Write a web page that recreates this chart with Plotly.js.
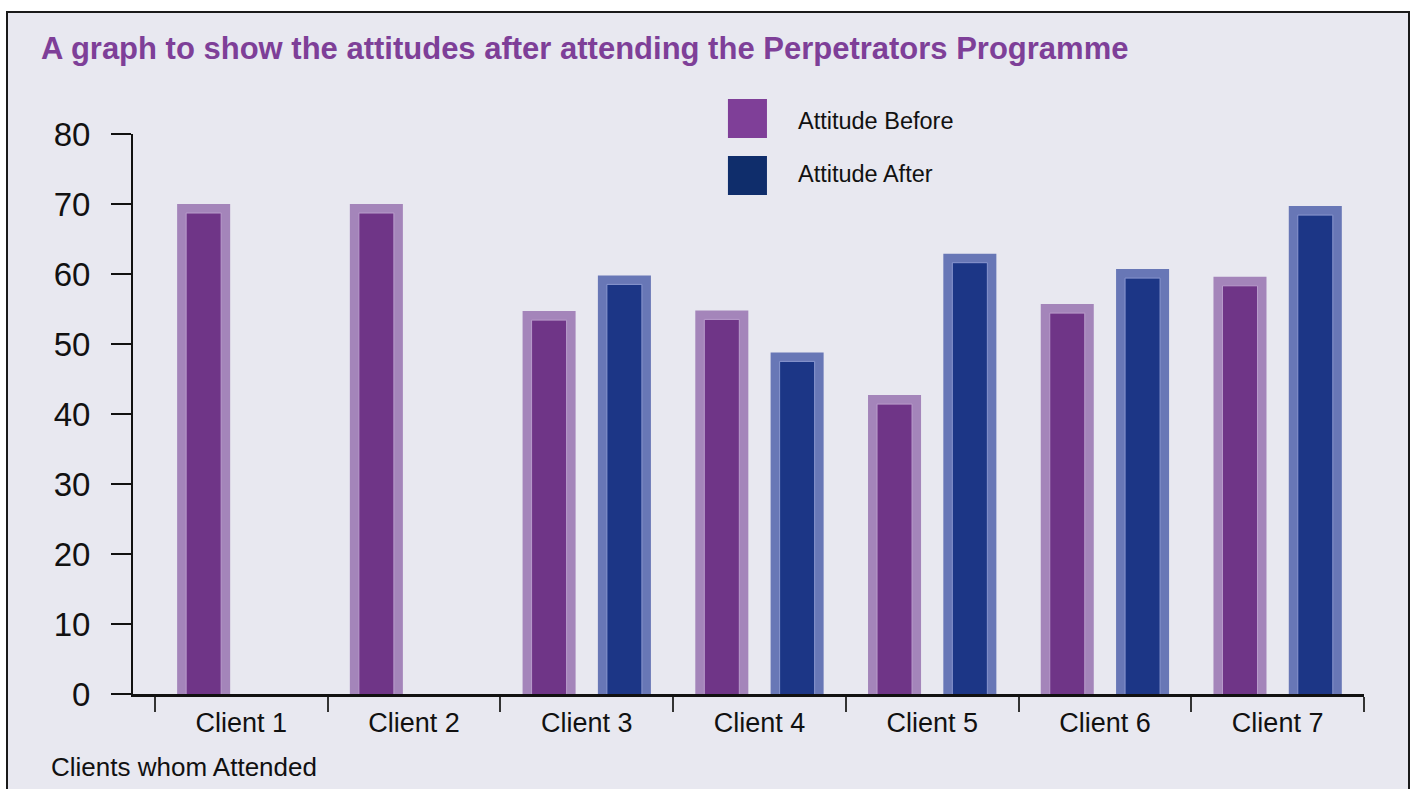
<!DOCTYPE html>
<html>
<head>
<meta charset="utf-8">
<script src="https://cdn.plot.ly/plotly-3.0.1.min.js"></script>
<style>
  html, body { margin:0; padding:0; background:#ffffff; overflow:hidden; }
  #frame { position:absolute; left:6px; top:11px; width:1400px; height:776px;
           border:2px solid #1a1a1a; border-bottom:none; background:#e8e8f0; }
  #chart { width:1400px; height:776px; }
</style>
</head>
<body>
<div id="frame"><div id="chart"></div></div>
<script>
// ---- data ----
const categories = ["Client 1", "Client 2", "Client 3", "Client 4", "Client 5", "Client 6", "Client 7"];
const attitudeBefore = [70, 70, 54.7, 54.8, 42.7, 55.7, 59.6];
const attitudeAfter  = [null, null, 59.8, 48.8, 62.9, 60.7, 69.7];
const seriesNames = ["Attitude Before", "Attitude After"];
const yTicks = [0, 10, 20, 30, 40, 50, 60, 70, 80];

// ---- styling ----
const FONT = "Liberation Sans, Arial, sans-serif";
const bevelPx = 9;            // bevel thickness in px
const pxPerUnit = 7;          // 560px plot height / 80 units
const bevelUnits = bevelPx / pxPerUnit;
const outerW = 0.307, innerW = 0.2027;   // in category units
const shift = 0.218;                       // centre offset of each bar from the category centre

// outer (bevel) layer: drawn on the main value axis
function outer(y, name, color, side) {
  const c = side * shift;
  return { type:"bar", x:categories, y:y, name:name, yaxis:"y",
    width:outerW, offset:c - outerW/2,
    marker:{ color:color, line:{width:0} }, showlegend:false, hoverinfo:"x+y+name" };
}
// inner (face) layer: same values on an overlaid axis shifted down by the bevel thickness
function inner(y, name, color, hl, side) {
  const c = side * shift;
  return { type:"bar", x:categories, y:y, name:name, yaxis:"y2",
    width:innerW, offset:c - innerW/2,
    marker:{ color:color, line:{width:1, color:hl} }, showlegend:false, hoverinfo:"skip" };
}

const traces = [
  outer(attitudeBefore, seriesNames[0], "#a485ba", -1),
  inner(attitudeBefore, seriesNames[0], "#6f3587", "#b99dcc", -1),
  outer(attitudeAfter, seriesNames[1], "#6877b6", 1),
  inner(attitudeAfter, seriesNames[1], "#1c3686", "#8a97cf", 1)
];

const legendColors = ["#7f3f98", "#0f2d6b"];

const layout = {
  width:1400, height:776,
  paper_bgcolor:"#e8e8f0", plot_bgcolor:"#e8e8f0",
  margin:{l:125, r:44, t:121, b:95},
  barmode:"overlay",
  showlegend:false,
  title:{ text:"A graph to show the attitudes after attending the Perpetrators Programme",
    font:{ family:"Liberation Sans Narrow, Arial Narrow, Liberation Sans, sans-serif", size:31, color:"#7e3f98", weight:"bold" },
    xref:"container", yref:"container", x:0.0236, xanchor:"left", y:0.955, yanchor:"middle" },
  xaxis:{
    type:"category", range:[-0.627, 6.5],
    showline:true, linecolor:"#111", linewidth:2.5,
    ticks:"outside", tickson:"boundaries", ticklen:15, tickwidth:1.5, tickcolor:"#333",
    tickfont:{ family:FONT, size:27, color:"#111" },
    ticklabelstandoff:3,
    showgrid:false, zeroline:false, fixedrange:true
  },
  yaxis:{
    range:[0, 80], tickvals:yTicks, ticktext:yTicks.map(String),
    showline:true, linecolor:"#111", linewidth:2,
    ticks:"outside", ticklen:20, tickwidth:2, tickcolor:"#111",
    tickfont:{ family:FONT, size:33, color:"#111" },
    ticklabelstandoff:14,
    showgrid:false, zeroline:false, fixedrange:true
  },
  yaxis2:{
    overlaying:"y", range:[bevelUnits, 80 + bevelUnits], visible:false,
    showgrid:false, zeroline:false, fixedrange:true
  },
  shapes:[
    { type:"rect", xref:"paper", yref:"paper", x0:0.4833, x1:0.5150, y0:0.9929, y1:1.0625,
      fillcolor:legendColors[0], line:{width:0} },
    { type:"rect", xref:"paper", yref:"paper", x0:0.4833, x1:0.5150, y0:0.8911, y1:0.9607,
      fillcolor:legendColors[1], line:{width:0} }
  ],
  annotations:[
    { text:seriesNames[0], xref:"paper", yref:"paper", x:0.5386, y:1.0232, xanchor:"left", yanchor:"middle",
      showarrow:false, font:{ family:FONT, size:23.5, color:"#111" } },
    { text:seriesNames[1], xref:"paper", yref:"paper", x:0.5386, y:0.9286, xanchor:"left", yanchor:"middle",
      showarrow:false, font:{ family:FONT, size:23.5, color:"#111" } },
    { text:"Clients whom Attended", xref:"paper", yref:"paper", x:-0.0682, y:-0.130, xanchor:"left", yanchor:"middle",
      showarrow:false, font:{ family:FONT, size:26, color:"#111" } }
  ]
};

Plotly.newPlot("chart", traces, layout, { displayModeBar:false });
</script>
</body>
</html>
